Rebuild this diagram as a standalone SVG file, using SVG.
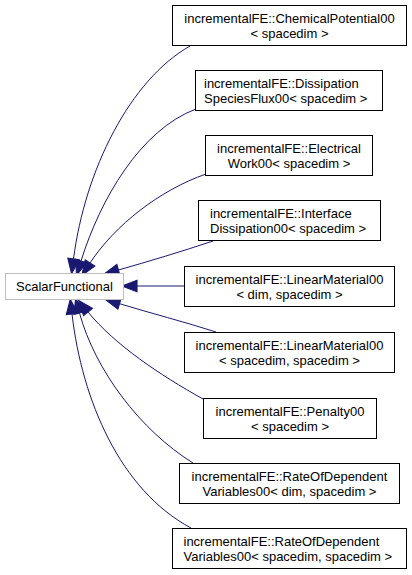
<svg xmlns="http://www.w3.org/2000/svg" width="412" height="575" viewBox="0 0 412 575">
<style>
.bg{fill:#ffffff}
.box{fill:#ffffff;stroke:#000000;stroke-width:1}
.pbox{fill:#ffffff;stroke:#bfbfbf;stroke-width:1}
text{font-family:"Liberation Sans",Arial,Helvetica,sans-serif;font-size:13px;fill:#000000}
.c{text-anchor:middle}
.e{fill:none;stroke:#191970;stroke-width:1;marker-end:url(#ah)}
</style>
<defs>
<marker id="ah" markerUnits="userSpaceOnUse" markerWidth="16" markerHeight="12" refX="0" refY="5" orient="auto" viewBox="0 0 14 10" overflow="visible">
<path d="M0,0 L13,5 L0,10 z" fill="#191970" stroke="#191970" stroke-width="1"/>
</marker>
</defs>
<rect class="bg" x="0" y="0" width="412" height="575"/>
<g id="connectors">
<path class="e" d="M190,46 C130,80 85,170 73.5,259"/>
<path class="e" d="M196,109 C140,130 100,200 81,261"/>
<path class="e" d="M206,174 C160,190 115,225 90,263"/>
<path class="e" d="M213,241 C180,252 150,261 118.4,270"/>
<path class="e" d="M184,286 L137,286"/>
<path class="e" d="M216,332 C185,322 150,313 119.5,303.7"/>
<path class="e" d="M203,399 C160,375 115,345 88,312"/>
<path class="e" d="M193,463 C140,430 95,370 79.5,313"/>
<path class="e" d="M191,528 C120,490 82,400 72,314"/>
</g>
<g id="ScalarFunctional">
<rect class="pbox" x="5.5" y="273.5" width="118" height="26"/>
<text class="c" x="64.5" y="291">ScalarFunctional</text>
</g>
<g id="ChemicalPotential00">
<rect class="box" x="172.5" y="5.5" width="234" height="40"/>
<text class="c" x="289.5" y="22.5">incrementalFE::ChemicalPotential00</text>
<text class="c" x="289.5" y="37.5">&lt; spacedim &gt;</text>
</g>
<g id="DissipationSpeciesFlux00">
<rect class="box" x="195.5" y="70.5" width="187" height="40"/>
<text x="204" y="87.5">incrementalFE::Dissipation</text>
<text x="204" y="102.5">SpeciesFlux00&lt; spacedim &gt;</text>
</g>
<g id="ElectricalWork00">
<rect class="box" x="205.5" y="135.5" width="167" height="40"/>
<text class="c" x="289" y="152.5">incrementalFE::Electrical</text>
<text class="c" x="289" y="167.5">Work00&lt; spacedim &gt;</text>
</g>
<g id="InterfaceDissipation00">
<rect class="box" x="198.5" y="200.5" width="182" height="40"/>
<text x="210" y="217.5">incrementalFE::Interface</text>
<text x="210" y="232.5">Dissipation00&lt; spacedim &gt;</text>
</g>
<g id="LinearMaterial00_dim">
<rect class="box" x="184.5" y="266.5" width="210" height="40"/>
<text class="c" x="289.5" y="283.5">incrementalFE::LinearMaterial00</text>
<text class="c" x="289.5" y="298.5">&lt; dim, spacedim &gt;</text>
</g>
<g id="LinearMaterial00_spacedim">
<rect class="box" x="184.5" y="332.5" width="210" height="40"/>
<text class="c" x="289.5" y="349.5">incrementalFE::LinearMaterial00</text>
<text class="c" x="289.5" y="364.5">&lt; spacedim, spacedim &gt;</text>
</g>
<g id="Penalty00">
<rect class="box" x="203.5" y="398.5" width="173" height="40"/>
<text class="c" x="290" y="415.5">incrementalFE::Penalty00</text>
<text class="c" x="290" y="430.5">&lt; spacedim &gt;</text>
</g>
<g id="RateOfDependentVariables00_dim">
<rect class="box" x="179.5" y="463.5" width="220" height="40"/>
<text class="c" x="289.5" y="480.5">incrementalFE::RateOfDependent</text>
<text class="c" x="289.5" y="495.5">Variables00&lt; dim, spacedim &gt;</text>
</g>
<g id="RateOfDependentVariables00_spacedim">
<rect class="box" x="172.5" y="528.5" width="234" height="40"/>
<text x="183.5" y="545.5">incrementalFE::RateOfDependent</text>
<text x="183.5" y="560.5">Variables00&lt; spacedim, spacedim &gt;</text>
</g>
</svg>
